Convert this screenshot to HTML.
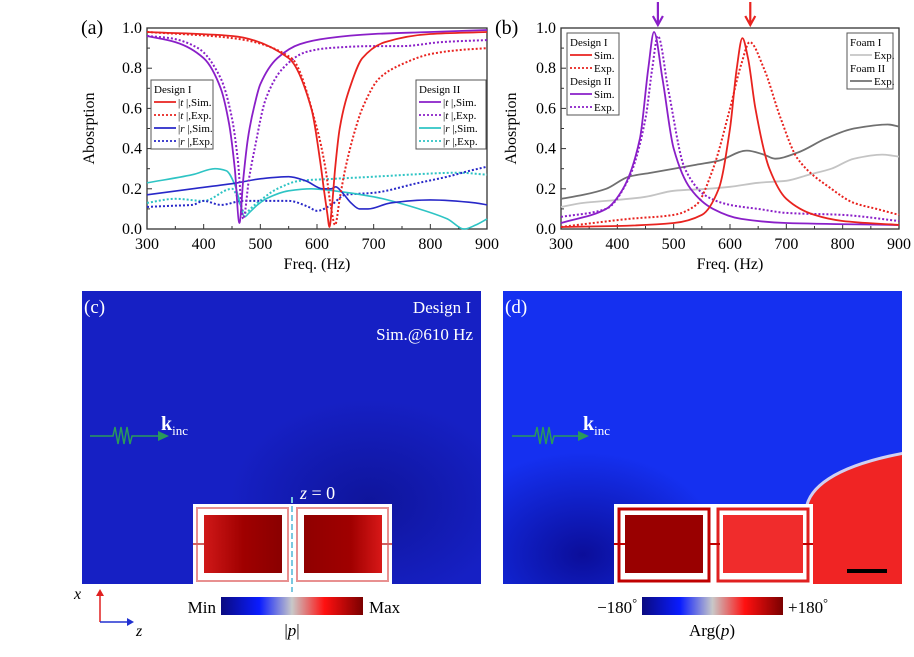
<!DOCTYPE html>
<html><head><meta charset="utf-8"><style>
body{margin:0;background:#fff;}
svg{display:block;font-family:"Liberation Serif",serif;}
</style></head><body>
<svg id="fig" width="914" height="657" viewBox="0 0 914 657">
<defs>
<linearGradient id="cbar" x1="0" x2="1" y1="0" y2="0">
<stop offset="0" stop-color="#0a0a80"/><stop offset="0.27" stop-color="#0a1cff"/><stop offset="0.5" stop-color="#c8c8c8"/><stop offset="0.73" stop-color="#ff1010"/><stop offset="1" stop-color="#7a0000"/>
</linearGradient>
<radialGradient id="darkc" cx="0.72" cy="0.72" r="0.35"><stop offset="0" stop-color="#0c108a" stop-opacity="0.7"/><stop offset="1" stop-color="#0c108a" stop-opacity="0"/></radialGradient>
<radialGradient id="darkd" cx="0.2" cy="0.9" r="0.35"><stop offset="0" stop-color="#0a0a90" stop-opacity="0.9"/><stop offset="1" stop-color="#0a0a90" stop-opacity="0"/></radialGradient>
<linearGradient id="cellL" x1="0" x2="1"><stop offset="0" stop-color="#d01818"/><stop offset="0.5" stop-color="#a00000"/><stop offset="1" stop-color="#8a0000"/></linearGradient>
<linearGradient id="cellR" x1="0" x2="1"><stop offset="0" stop-color="#900000"/><stop offset="0.6" stop-color="#a00000"/><stop offset="1" stop-color="#d81818"/></linearGradient>
<clipPath id="clipd"><rect x="503" y="291" width="399" height="293"/></clipPath>
</defs>
<g id="chartA"></g>
<g id="chartB"></g>

<!-- Panel c -->
<g>
<rect x="82" y="291" width="399" height="293" fill="#1620c4"/>
<rect x="82" y="291" width="399" height="293" fill="url(#darkc)"/>
<text x="84" y="313" font-size="19" fill="#fff">(c)</text>
<text x="471" y="313" font-size="17" fill="#fff" text-anchor="end">Design I</text>
<text x="473" y="340" font-size="17" fill="#fff" text-anchor="end">Sim.@610 Hz</text>
<path d="M90 436 H113 l2 -9 l3 17 l3 -17 l3 17 l3 -17 l3 17 l2 -8 H160" fill="none" stroke="#2a9a5a" stroke-width="1.5"/>
<polygon points="158,431 169,436 158,441" fill="#2a9a5a"/>
<text x="161" y="430" font-size="20" font-weight="bold" fill="#fff">k<tspan font-size="13" font-weight="normal" dy="5">inc</tspan></text>
<g>
<rect x="193" y="504" width="199" height="80" fill="#fff"/>
<rect x="197" y="508" width="91" height="73" fill="none" stroke="#e89090" stroke-width="2"/>
<rect x="297" y="508" width="91" height="73" fill="none" stroke="#e89090" stroke-width="2"/>
<rect x="204" y="515" width="78" height="58" fill="url(#cellL)"/>
<rect x="304" y="515" width="78" height="58" fill="url(#cellR)"/>
<line x1="193" y1="544" x2="204" y2="544" stroke="#d06060" stroke-width="2"/>
<line x1="382" y1="544" x2="392" y2="544" stroke="#d06060" stroke-width="2"/>
</g>
<line x1="292" y1="497" x2="292" y2="592" stroke="#7ac8e0" stroke-width="2" stroke-dasharray="6,3"/>
<text x="300" y="499" font-size="18" fill="#fff"><tspan font-style="italic">z</tspan> = 0</text>
<text x="74" y="599" font-size="16" font-style="italic">x</text>
<line x1="100" y1="622" x2="100" y2="592" stroke="#e02020" stroke-width="1.5"/><polygon points="96,596 100,589 104,596" fill="#e02020"/>
<line x1="100" y1="622" x2="130" y2="622" stroke="#2030d0" stroke-width="1.5"/><polygon points="127,618 134,622 127,626" fill="#2030d0"/>
<text x="136" y="636" font-size="16" font-style="italic">z</text>
<text x="216" y="613" font-size="17" text-anchor="end">Min</text>
<rect x="221" y="597" width="142" height="18" fill="url(#cbar)"/>
<text x="369" y="613" font-size="17">Max</text>
<text x="292" y="636" font-size="17" text-anchor="middle">|<tspan font-style="italic">p</tspan>|</text>
</g>

<!-- Panel d -->
<g>
<rect x="503" y="291" width="399" height="293" fill="#1530f0"/>
<rect x="503" y="291" width="399" height="293" fill="url(#darkd)"/>
<g clip-path="url(#clipd)">
<path d="M806 510 C808 490 830 466 910 452 V600 H806 Z" fill="#f02424" stroke="#d0d0f0" stroke-width="3"/>
</g>
<text x="505" y="313" font-size="19" fill="#fff">(d)</text>
<path d="M512 436 H535 l2 -9 l3 17 l3 -17 l3 17 l3 -17 l3 17 l2 -8 H580" fill="none" stroke="#2a9a5a" stroke-width="1.5"/>
<polygon points="578,431 589,436 578,441" fill="#2a9a5a"/>
<text x="583" y="430" font-size="20" font-weight="bold" fill="#fff">k<tspan font-size="13" font-weight="normal" dy="5">inc</tspan></text>
<g>
<rect x="614" y="504" width="199" height="80" fill="#fff"/>
<rect x="619" y="509" width="90" height="72" fill="none" stroke="#c00000" stroke-width="3"/>
<rect x="718" y="509" width="90" height="72" fill="none" stroke="#e02020" stroke-width="3"/>
<rect x="625" y="515" width="78" height="58" fill="#990000"/>
<rect x="723" y="515" width="80" height="58" fill="#f02c2c"/>
<line x1="614" y1="544" x2="625" y2="544" stroke="#c00000" stroke-width="2"/>
<line x1="708" y1="544" x2="720" y2="544" stroke="#c00000" stroke-width="2"/>
<line x1="803" y1="544" x2="813" y2="544" stroke="#c00000" stroke-width="2"/>
</g>
<line x1="847" y1="571" x2="887" y2="571" stroke="#000" stroke-width="4"/>
<text x="637" y="613" font-size="17" text-anchor="end">−180<tspan dy="-6" font-size="12">°</tspan></text>
<rect x="642" y="597" width="141" height="18" fill="url(#cbar)"/>
<text x="788" y="613" font-size="17">+180<tspan dy="-6" font-size="12">°</tspan></text>
<text x="712" y="636" font-size="17" text-anchor="middle">Arg(<tspan font-style="italic">p</tspan>)</text>
</g>
</svg>
<script>
const NS="http://www.w3.org/2000/svg";
// ---------- Data ----------
const xTicks=[300,400,500,600,700,800,900];
const yTicks=[0,0.2,0.4,0.6,0.8,1.0];
const yTickLabels=["0.0","0.2","0.4","0.6","0.8","1.0"];
// Panel (a)
const aFreqRedSim=[300,450,550,590,605,612,618,622,626,632,640,660,680,720,800,900];
const aRedSim=[0.98,0.96,0.85,0.6,0.35,0.2,0.08,0.01,0.1,0.3,0.5,0.72,0.85,0.93,0.97,0.98];
const aFreqRedExp=[300,450,555,600,615,625,632,640,650,665,680,710,750,800,850,900];
const aRedExp=[0.98,0.95,0.85,0.5,0.3,0.1,0.02,0.15,0.3,0.47,0.6,0.75,0.82,0.87,0.89,0.9];
const aFreqPurSim=[300,350,400,430,445,455,463,470,478,490,500,530,570,620,700,800,900];
const aPurSim=[0.96,0.93,0.85,0.7,0.52,0.3,0.03,0.25,0.45,0.62,0.72,0.85,0.92,0.95,0.97,0.98,0.99];
const aFreqPurExp=[300,340,390,430,450,460,470,480,490,510,540,580,620,700,750,820,900];
const aPurExp=[0.96,0.95,0.9,0.75,0.55,0.35,0.05,0.25,0.4,0.65,0.8,0.88,0.9,0.91,0.91,0.93,0.94];
const aFreqBlueSim=[300,380,460,500,550,580,610,625,633,645,660,675,690,730,800,880,900];
const aBlueSim=[0.17,0.2,0.23,0.25,0.26,0.24,0.2,0.2,0.21,0.18,0.13,0.1,0.1,0.13,0.145,0.13,0.12];
const aFreqBlueExp=[300,340,380,400,430,470,520,550,585,600,625,650,700,780,830,870,900];
const aBlueExp=[0.11,0.115,0.12,0.14,0.12,0.14,0.14,0.14,0.11,0.09,0.12,0.17,0.18,0.23,0.26,0.29,0.31];
const aFreqCyanSim=[300,380,420,440,455,465,472,480,495,510,550,590,630,700,780,830,860,880,900];
const aCyanSim=[0.23,0.27,0.3,0.29,0.22,0.12,0.06,0.08,0.12,0.15,0.19,0.2,0.19,0.16,0.1,0.05,0.0,0.02,0.05];
const aFreqCyanExp=[300,350,400,450,465,472,490,530,570,630,700,760,850,900];
const aCyanExp=[0.13,0.15,0.14,0.2,0.12,0.08,0.12,0.2,0.24,0.25,0.26,0.27,0.28,0.27];
// Panel (b)
const bFreqRedSim=[300,400,500,550,580,600,612,622,632,645,670,700,750,800,900];
const bRedSim=[0.01,0.015,0.03,0.07,0.2,0.5,0.8,0.95,0.85,0.6,0.3,0.15,0.07,0.04,0.02];
const bFreqRedExp=[300,420,500,540,570,600,620,635,660,690,720,780,820,860,900];
const bRedExp=[0.01,0.05,0.07,0.12,0.3,0.6,0.82,0.93,0.8,0.55,0.35,0.2,0.13,0.1,0.07];
const bFreqPurSim=[300,380,410,440,455,465,480,500,530,570,620,700,900];
const bPurSim=[0.03,0.1,0.2,0.45,0.8,0.98,0.75,0.4,0.2,0.1,0.05,0.03,0.02];
const bFreqPurExp=[300,380,420,450,462,472,490,520,560,600,650,700,800,900];
const bPurExp=[0.06,0.1,0.25,0.55,0.8,0.96,0.7,0.3,0.16,0.12,0.1,0.08,0.07,0.04];
const bFreqFoam1=[300,340,380,420,450,500,560,600,650,700,740,780,820,870,900];
const bFoam1=[0.11,0.13,0.14,0.15,0.16,0.19,0.2,0.21,0.23,0.24,0.27,0.3,0.35,0.37,0.36];
const bFreqFoam2=[300,340,380,420,460,500,540,580,630,660,680,720,770,820,880,900];
const bFoam2=[0.15,0.17,0.2,0.26,0.28,0.3,0.32,0.34,0.39,0.37,0.35,0.38,0.45,0.5,0.52,0.51];

function el(tag,attrs,parent){const e=document.createElementNS(NS,tag);for(const k in attrs)e.setAttribute(k,attrs[k]);parent.appendChild(e);return e;}
// monotone cubic (Fritsch-Carlson) path to avoid overshoot
function smoothPath(p){const n=p.length;if(n<3){return "M"+p.map(q=>q[0]+" "+q[1]).join(" L");}
 const dx=[],s=[];for(let i=0;i<n-1;i++){dx.push(p[i+1][0]-p[i][0]);s.push((p[i+1][1]-p[i][1])/dx[i]);}
 const m=[s[0]];for(let i=1;i<n-1;i++){if(s[i-1]*s[i]<=0)m.push(0);else{const w1=2*dx[i]+dx[i-1],w2=dx[i]+2*dx[i-1];m.push((w1+w2)/(w1/s[i-1]+w2/s[i]));}}
 m.push(s[n-2]);
 let d="M"+p[0][0].toFixed(1)+" "+p[0][1].toFixed(1);
 for(let i=0;i<n-1;i++){const h=dx[i]/3;
  d+=" C"+(p[i][0]+h).toFixed(1)+" "+(p[i][1]+m[i]*h).toFixed(1)+" "+(p[i+1][0]-h).toFixed(1)+" "+(p[i+1][1]-m[i+1]*h).toFixed(1)+" "+p[i+1][0].toFixed(1)+" "+p[i+1][1].toFixed(1);}
 return d;}

function axes(g,x0,x1,y0,y1,label,ylabX){
 const X=f=>x0+(f-300)/600*(x1-x0), Y=v=>y0-(v)*(y0-y1);
 el("rect",{x:x0,y:y1,width:x1-x0,height:y0-y1,fill:"#fff",stroke:"#333","stroke-width":1.3},g);
 xTicks.forEach(t=>{el("line",{x1:X(t),x2:X(t),y1:y0,y2:y0-5,stroke:"#333"},g);
  const tx=el("text",{x:X(t),y:y0+20,"font-size":16,"text-anchor":"middle"},g);tx.textContent=t;
  
  
  if(t<900)el("line",{x1:X(t+50),x2:X(t+50),y1:y0,y2:y0-3,stroke:"#333"},g);});
 yTicks.forEach((t,i)=>{el("line",{x1:x0,x2:x0+5,y1:Y(t),y2:Y(t),stroke:"#333"},g);
  if(i<5)el("line",{x1:x0,x2:x0+3,y1:Y(t+0.1),y2:Y(t+0.1),stroke:"#333"},g);
  const tx=el("text",{x:x0-5,y:Y(t)+5,"font-size":16,"text-anchor":"end"},g);tx.textContent=yTickLabels[i];
  
  });
 const xt=el("text",{x:(x0+x1)/2,y:y0+40,"font-size":16,"text-anchor":"middle"},g);xt.textContent="Freq. (Hz)";
 
 
 const yt=el("text",{x:0,y:0,"font-size":16,"text-anchor":"middle",transform:`translate(${ylabX},${(y0+y1)/2}) rotate(-90)`},g);yt.textContent="Abosrption";
 
 
 const pl=el("text",{x:x0-66,y:y1+6,"font-size":20},g);pl.textContent=label;
 
 
 return {X,Y};
}
function series(g,sc,fx,fy,color,dash,w,name){
 const pts=fx.map((f,i)=>[sc.X(f),sc.Y(fy[i])]);
 const p=el("path",{d:smoothPath(pts),fill:"none",stroke:color,"stroke-width":w||1.8},g);
 if(dash)p.setAttribute("stroke-dasharray",dash);
 
 
}
function legend(g,x,y,w,rows){
 const h=rows.length*13+4;
 el("rect",{x:x,y:y,width:w,height:h,fill:"#fff",stroke:"#555","stroke-width":1},g);
 rows.forEach((r,i)=>{const yy=y+13+i*13;
  if(r.color){el("line",{x1:x+3,x2:x+25,y1:yy-4,y2:yy-4,stroke:r.color,"stroke-width":1.8,"stroke-dasharray":r.dash||"none"},g);}
  const t=el("text",{x:r.color?x+27:x+3,y:yy,"font-size":11},g);t.innerHTML=r.text;
  
  });
}
const RED="#e8231f",PUR="#8a1fc8",BLU="#2828c8",CYA="#2ec4c4",DOT="2,2";
// Panel a
const gA=document.getElementById("chartA");
const sA=axes(gA,147,487,229,28,"(a)",94);
series(gA,sA,aFreqCyanExp,aCyanExp,CYA,DOT,2,"r-exp-design2");
series(gA,sA,aFreqBlueExp,aBlueExp,BLU,DOT,2,"r-exp-design1");
series(gA,sA,aFreqCyanSim,aCyanSim,CYA,null,1.6,"r-sim-design2");
series(gA,sA,aFreqBlueSim,aBlueSim,BLU,null,1.6,"r-sim-design1");
series(gA,sA,aFreqPurExp,aPurExp,PUR,DOT,2,"t-exp-design2");
series(gA,sA,aFreqRedExp,aRedExp,RED,DOT,2,"t-exp-design1");
series(gA,sA,aFreqPurSim,aPurSim,PUR,null,1.8,"t-sim-design2");
series(gA,sA,aFreqRedSim,aRedSim,RED,null,1.8,"t-sim-design1");
legend(gA,151,80,62,[{text:"Design I"},{text:"|<tspan font-style='italic'>t</tspan> |,Sim.",color:RED},{text:"|<tspan font-style='italic'>t</tspan> |,Exp.",color:RED,dash:DOT},{text:"|<tspan font-style='italic'>r</tspan> |,Sim.",color:BLU},{text:"|<tspan font-style='italic'>r</tspan> |,Exp.",color:BLU,dash:DOT}]);
legend(gA,416,80,70,[{text:"Design II"},{text:"|<tspan font-style='italic'>t</tspan> |,Sim.",color:PUR},{text:"|<tspan font-style='italic'>t</tspan> |,Exp.",color:PUR,dash:DOT},{text:"|<tspan font-style='italic'>r</tspan> |,Sim.",color:CYA},{text:"|<tspan font-style='italic'>r</tspan> |,Exp.",color:CYA,dash:DOT}]);
// Panel b
const gB=document.getElementById("chartB");
const sB=axes(gB,561,899,229,28,"(b)",516);
series(gB,sB,bFreqFoam1,bFoam1,"#c4c4c4",null,1.8,"foam1-exp");
series(gB,sB,bFreqFoam2,bFoam2,"#707070",null,1.8,"foam2-exp");
series(gB,sB,bFreqPurExp,bPurExp,PUR,DOT,2,"design2-exp");
series(gB,sB,bFreqRedExp,bRedExp,RED,DOT,2,"design1-exp");
series(gB,sB,bFreqPurSim,bPurSim,PUR,null,1.8,"design2-sim");
series(gB,sB,bFreqRedSim,bRedSim,RED,null,1.8,"design1-sim");
legend(gB,567,33,52,[{text:"Design I"},{text:"Sim.",color:RED},{text:"Exp.",color:RED,dash:DOT},{text:"Design II"},{text:"Sim.",color:PUR},{text:"Exp.",color:PUR,dash:DOT}]);
legend(gB,847,33,46,[{text:"Foam I"},{text:"Exp.",color:"#c4c4c4"},{text:"Foam II"},{text:"Exp.",color:"#707070"}]);
[[472,PUR],[636,RED]].forEach(([f,c])=>{const x=sB.X(f);
 const a=el("path",{d:`M${x} 2 V24 M${x-5} 16 L${x} 25 L${x+5} 16`,fill:"none",stroke:c,"stroke-width":2.2},gB);
 
 });
</script>
</body></html>
